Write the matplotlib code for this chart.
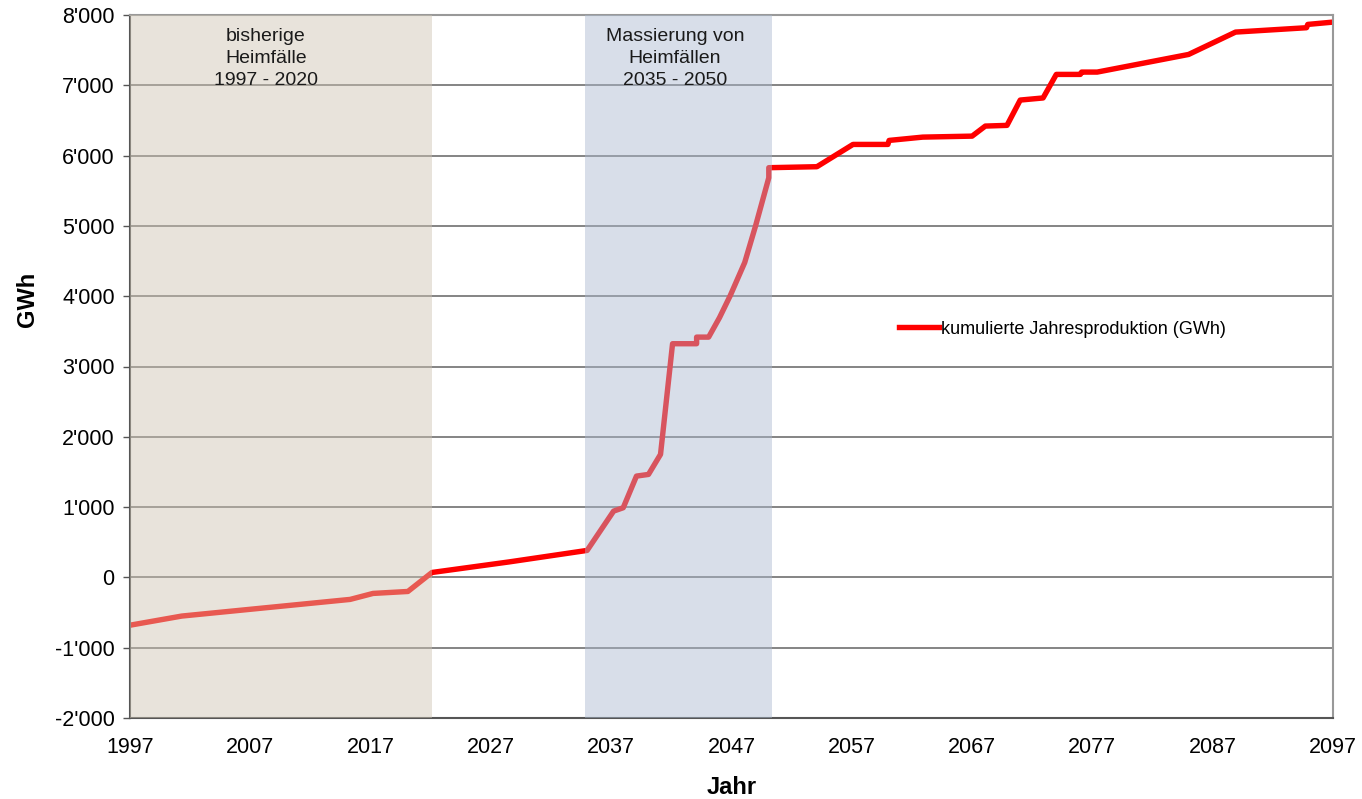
import matplotlib
matplotlib.use('Agg')
import matplotlib.pyplot as plt
from matplotlib.ticker import FuncFormatter

plt.rcParams['font.family'] = ['Liberation Sans', 'DejaVu Sans']

# cumulative annual production (GWh)
years = [1997, 2001.3, 2015.3, 2017.2, 2020.1, 2022.1, 2028.5, 2035.0, 2037.2, 2038.0,
         2039.1, 2040.1, 2041.1, 2042.1, 2044.1, 2044.1, 2045.1, 2046.0, 2046.9, 2048.1,
         2049.0, 2050.1, 2050.1, 2054.1, 2057.1, 2060.0, 2060.1, 2062.9, 2067.0, 2068.1,
         2069.9, 2071.0, 2072.9, 2074.0, 2076.0, 2076.1, 2077.4, 2085.0, 2088.9, 2094.8,
         2094.9, 2097]
values = [-680, -550, -313, -228, -200, 70, 220, 384, 943, 991,
          1441, 1465, 1750, 3324, 3324, 3418, 3418, 3694, 4010, 4480,
          5000, 5685, 5828, 5842, 6159, 6159, 6216, 6263, 6277, 6420,
          6430, 6790, 6820, 7155, 7155, 7188, 7188, 7439, 7757, 7819,
          7866, 7899]

# shaded periods
span_past = (1997, 2022.1)
span_mass = (2034.8, 2050.4)
label_past = "bisherige\nHeimfälle\n1997 - 2020"
label_mass = "Massierung von\nHeimfällen\n2035 - 2050"

xticks = list(range(1997, 2098, 10))
yticks = list(range(-2000, 8001, 1000))

fig = plt.figure(figsize=(13.62, 7.99), dpi=100)
ax = fig.add_axes([130 / 1362, 81 / 799, 1203 / 1362, 703 / 799])

ax.plot(years, values, color='#ff0000', lw=3.9, zorder=2,
        label='kumulierte Jahresproduktion (GWh)')

ax.axvspan(*span_past, color=(205/255, 196/255, 178/255), alpha=0.46, lw=0, zorder=3)
ax.axvspan(*span_mass, color=(170/255, 185/255, 207/255), alpha=0.46, lw=0, zorder=3)

ax.text(2008.3, 7820, label_past, ha='center', va='top', fontsize=14,
        linespacing=1.38, color='#1a1a1a', zorder=5)
ax.text(2042.3, 7820, label_mass, ha='center', va='top', fontsize=14,
        linespacing=1.38, color='#1a1a1a', zorder=5)

ax.set_xlim(1997, 2097)
ax.set_ylim(-2000, 8000)
ax.set_xticks(xticks)
ax.set_yticks(yticks)
ax.yaxis.set_major_formatter(FuncFormatter(lambda v, p: f"{int(v):,}".replace(',', "'")))

ax.grid(axis='y', color='#707070', lw=1.2, zorder=0.5)
ax.set_axisbelow(True)

ax.tick_params(axis='x', length=0, pad=14, labelsize=15.5)
ax.tick_params(axis='y', length=5, width=1, color='#555555', pad=6, labelsize=15.5,
               direction='out')

for s in ['top', 'right']:
    ax.spines[s].set_color('#999999')
    ax.spines[s].set_linewidth(1.5)
for s in ['left', 'bottom']:
    ax.spines[s].set_color('#555555')
    ax.spines[s].set_linewidth(1.5)

ax.set_ylabel('GWh', fontsize=17, fontweight='bold')
ax.yaxis.set_label_coords(-0.076, 0.595)
ax.set_xlabel('Jahr', fontsize=17, fontweight='bold')
ax.xaxis.set_label_coords(0.5, -0.082)

ax.legend(loc='center left', bbox_to_anchor=(0.626, 0.553), frameon=False,
          fontsize=13, handlelength=2.2, handletextpad=0.1)

fig.savefig('out.png', dpi=100)
